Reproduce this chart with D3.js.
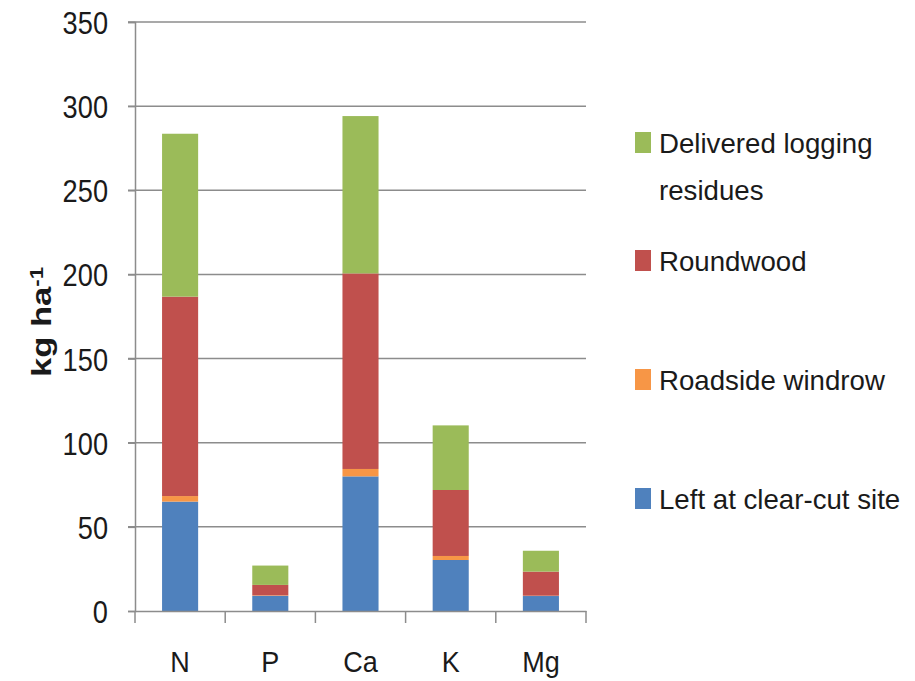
<!DOCTYPE html>
<html>
<head>
<meta charset="utf-8">
<script src="https://cdn.jsdelivr.net/npm/d3@7"></script>
<style>
    body { margin: 0; background: #fff; }
    text { font-family: "Liberation Sans", Arial, sans-serif; fill: #1a1a1a; }
</style>
</head>
<body>
<div id="chart"></div>
<script>
// Data (kg ha-1)
var nutrients = ["N", "P", "Ca", "K", "Mg"];
var leftAtSite = [65, 9, 80, 30.3, 8.9];
var roadsideWindrow = [3.3, 0.3, 4.4, 2.4, 0.2];
var roundwood = [118.5, 6.2, 116.2, 39.2, 14.3];
var deliveredResidues = [96.8, 11.5, 93.5, 38.4, 12.4];
var yTicks = [0, 50, 100, 150, 200, 250, 300, 350];

var seriesNames = ["Left at clear-cut site", "Roadside windrow", "Roundwood", "Delivered logging residues"];
var seriesColors = ["#4F81BD", "#F79646", "#C0504D", "#9BBB59"];

// Svg Dimensions
var svgWidth = 915;
var svgHeight = 681;

var margin = { top: 22, left: 135, right: 329, bottom: 70 };
var chartWidth = svgWidth - margin.left - margin.right;
var chartHeight = svgHeight - margin.top - margin.bottom;

// Squeeze text horizontally (the source font is a narrow one)
function squeeze(sel, factor) {
    sel.each(function() {
        var len = this.getComputedTextLength();
        d3.select(this)
            .attr("textLength", len * factor)
            .attr("lengthAdjust", "spacingAndGlyphs");
    });
}

// Build table for the stack layout
var table = nutrients.map(function(n, i) {
    return {
        nutrient: n,
        left: leftAtSite[i],
        roadside: roadsideWindrow[i],
        roundwood: roundwood[i],
        delivered: deliveredResidues[i]
    };
});
var keys = ["left", "roadside", "roundwood", "delivered"];
var stacked = d3.stack().keys(keys)(table);

var svg = d3.select("#chart").append("svg")
    .attr("width", svgWidth)
    .attr("height", svgHeight);

var chartGroup = svg.append("g")
    .attr("transform", `translate(${margin.left}, ${margin.top})`);

var xScale = d3.scaleBand()
    .domain(nutrients)
    .range([0, chartWidth]);

var yScale = d3.scaleLinear()
    .domain([0, 350])
    .range([chartHeight, 0]);

// Gridlines
chartGroup.append("g")
    .selectAll("line")
    .data(yTicks.slice(1))
    .enter()
    .append("line")
    .attr("x1", -7)
    .attr("x2", chartWidth)
    .attr("y1", d => yScale(d))
    .attr("y2", d => yScale(d))
    .attr("stroke", "#8c8c8c")
    .attr("stroke-width", 1.5);

// Bars
var barWidth = xScale.bandwidth() * 0.4;
chartGroup.append("g")
    .selectAll("g")
    .data(stacked)
    .enter()
    .append("g")
    .attr("fill", (d, i) => seriesColors[i])
    .selectAll("rect")
    .data(d => d)
    .enter()
    .append("rect")
    .attr("x", d => xScale(d.data.nutrient) + (xScale.bandwidth() - barWidth) / 2)
    .attr("y", d => yScale(d[1]))
    .attr("width", barWidth)
    .attr("height", d => yScale(d[0]) - yScale(d[1]));

// Y axis
var leftAxis = d3.axisLeft(yScale)
    .tickValues(yTicks)
    .tickSize(7)
    .tickPadding(20);
var yAxis = chartGroup.append("g").call(leftAxis);
yAxis.select(".domain").attr("stroke", "#8c8c8c").attr("stroke-width", 1.5);
yAxis.selectAll(".tick line").attr("stroke", "#8c8c8c").attr("stroke-width", 1.5);
yAxis.selectAll(".tick text")
    .attr("font-size", "32px")
    .attr("fill", "#1a1a1a")
    .attr("font-family", null)
    .attr("dy", "0.36em")
    .call(squeeze, 0.85);

// X axis with tick marks between categories
var bottomAxis = d3.axisBottom(xScale).tickSize(0).tickPadding(40);
var xAxis = chartGroup.append("g")
    .attr("transform", `translate(0, ${chartHeight})`)
    .call(bottomAxis);
xAxis.select(".domain").attr("stroke", "#8c8c8c").attr("stroke-width", 1.5);
xAxis.selectAll(".tick text")
    .attr("font-size", "30px")
    .attr("fill", "#1a1a1a")
    .attr("font-family", null)
    .call(squeeze, 0.9);
xAxis.selectAll(".sep")
    .data(d3.range(nutrients.length + 1))
    .enter()
    .append("line")
    .attr("x1", i => i * xScale.step())
    .attr("x2", i => i * xScale.step())
    .attr("y1", 0)
    .attr("y2", 12)
    .attr("stroke", "#8c8c8c")
    .attr("stroke-width", 1.5);

// Y label
var yLabel = svg.append("text")
    .attr("transform", "translate(51, 322) rotate(-90)")
    .attr("text-anchor", "middle")
    .style("font-weight", "bold")
    .attr("font-size", "28px");
yLabel.append("tspan").text("kg ha");
yLabel.append("tspan").attr("dy", "-0.45em").attr("font-size", "18px").text("-1");
yLabel.attr("textLength", 110).attr("lengthAdjust", "spacingAndGlyphs");

// Legend
var legendItems = [
    { color: seriesColors[3], lines: ["Delivered logging", "residues"], y: 153 },
    { color: seriesColors[2], lines: ["Roundwood"], y: 271 },
    { color: seriesColors[1], lines: ["Roadside windrow"], y: 390 },
    { color: seriesColors[0], lines: ["Left at clear-cut site"], y: 509 }
];
var legend = svg.append("g");
legendItems.forEach(function(item) {
    legend.append("rect")
        .attr("x", 635)
        .attr("y", item.y - 21)
        .attr("width", 16)
        .attr("height", 21)
        .attr("fill", item.color);
    item.lines.forEach(function(line, i) {
        legend.append("text")
            .attr("x", 659)
            .attr("y", item.y + i * 47)
            .attr("font-size", "28.5px")
            .text(line)
            .call(squeeze, 0.97);
    });
});
</script>
</body>
</html>
